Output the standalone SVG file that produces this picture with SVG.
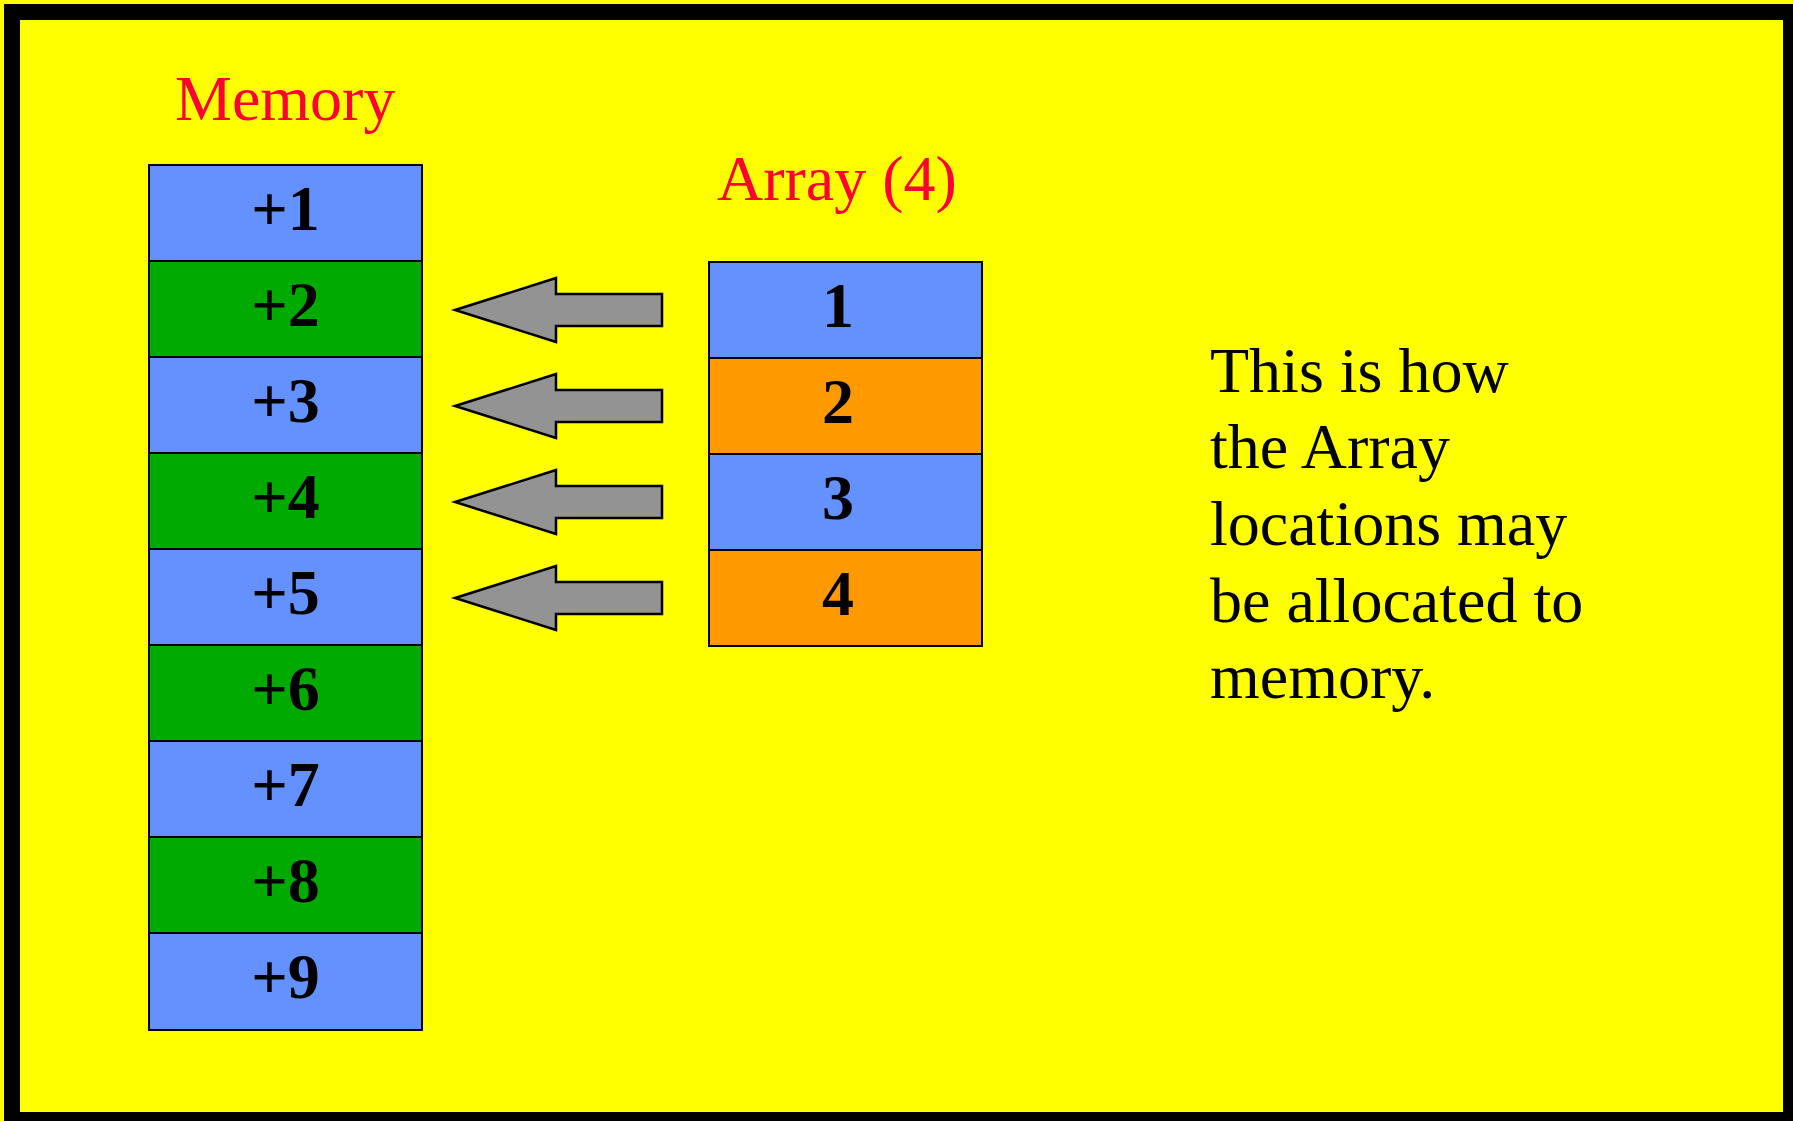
<svg xmlns="http://www.w3.org/2000/svg" width="1793" height="1121" viewBox="0 0 1793 1121">
<style>
.cell{stroke:#000;stroke-width:2}
.blue{fill:#6392FF}
.green{fill:#00AA00}
.orange{fill:#FF9900}
.lbl{font-family:"Liberation Serif","Times New Roman",serif;font-weight:bold;font-size:64px;fill:#000;text-anchor:middle}
.title{font-family:"Liberation Serif","Times New Roman",serif;font-size:64px;fill:#FF0033}
.note{font-family:"Liberation Serif","Times New Roman",serif;font-size:64px;fill:#000}
.arrow{fill:#939393;stroke:#000;stroke-width:2.5}
</style>
<defs>
<polygon id="arr" class="arrow" points="455,310 556,278 556,294 662,294 662,326 556,326 556,342"/>
</defs>
<rect x="0" y="0" width="1793" height="1121" fill="#FFFF00"/>
<rect x="12" y="12" width="1779" height="1108" fill="#FFFF00" stroke="#000" stroke-width="16"/>

<text id="memory-title" class="title" x="175" y="120">Memory</text>
<text id="array-title" class="title" x="717" y="200">Array (4)</text>

<g id="memory">
<g id="m1"><rect class="cell blue" x="149" y="165" width="273" height="96"/><text class="lbl" x="285.5" y="230">+1</text></g>
<g id="m2"><rect class="cell green" x="149" y="261" width="273" height="96"/><text class="lbl" x="285.5" y="326">+2</text></g>
<g id="m3"><rect class="cell blue" x="149" y="357" width="273" height="96"/><text class="lbl" x="285.5" y="422">+3</text></g>
<g id="m4"><rect class="cell green" x="149" y="453" width="273" height="96"/><text class="lbl" x="285.5" y="518">+4</text></g>
<g id="m5"><rect class="cell blue" x="149" y="549" width="273" height="96"/><text class="lbl" x="285.5" y="614">+5</text></g>
<g id="m6"><rect class="cell green" x="149" y="645" width="273" height="96"/><text class="lbl" x="285.5" y="710">+6</text></g>
<g id="m7"><rect class="cell blue" x="149" y="741" width="273" height="96"/><text class="lbl" x="285.5" y="806">+7</text></g>
<g id="m8"><rect class="cell green" x="149" y="837" width="273" height="96"/><text class="lbl" x="285.5" y="902">+8</text></g>
<g id="m9"><rect class="cell blue" x="149" y="933" width="273" height="97"/><text class="lbl" x="285.5" y="998">+9</text></g>
</g>

<g id="array">
<g id="a1"><rect class="cell blue" x="709" y="262" width="273" height="96"/><text class="lbl" x="838" y="327">1</text></g>
<g id="a2"><rect class="cell orange" x="709" y="358" width="273" height="96"/><text class="lbl" x="838" y="423">2</text></g>
<g id="a3"><rect class="cell blue" x="709" y="454" width="273" height="96"/><text class="lbl" x="838" y="519">3</text></g>
<g id="a4"><rect class="cell orange" x="709" y="550" width="273" height="96"/><text class="lbl" x="838" y="615">4</text></g>
</g>

<g id="connectors">
<use href="#arr"/>
<use href="#arr" y="96"/>
<use href="#arr" y="192"/>
<use href="#arr" y="288"/>
</g>

<g id="note">
<text class="note" x="1210" y="392">This is how</text>
<text class="note" x="1210" y="468">the Array</text>
<text class="note" x="1210" y="545">locations may</text>
<text class="note" x="1210" y="622">be allocated to</text>
<text class="note" x="1210" y="698">memory.</text>
</g>
</svg>
